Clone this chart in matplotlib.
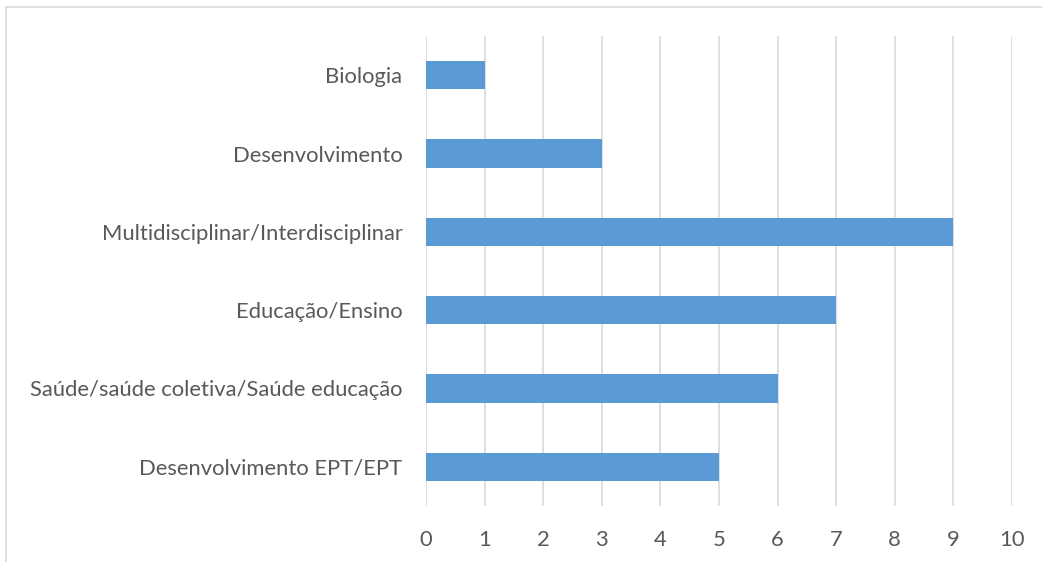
import matplotlib
matplotlib.use('Agg')
import matplotlib.pyplot as plt
from matplotlib.patches import Rectangle

# dados (de baixo para cima, como no Excel)
categorias = ['Desenvolvimento EPT/EPT',
              'Saúde/saúde coletiva/Saúde educação',
              'Educação/Ensino',
              'Multidisciplinar/Interdisciplinar',
              'Desenvolvimento',
              'Biologia']
valores = [5, 6, 7, 9, 3, 1]
ticks_x = list(range(0, 11))

cor_barra = '#5B9BD5'
cor_texto = '#595959'
cor_grade = '#D9D9D9'

plt.rcParams['font.family'] = ['Lato', 'DejaVu Sans']

fig = plt.figure(figsize=(10.42, 5.62), dpi=100)
ax = fig.add_axes([426/1042, 1 - 506/562, (1012 - 426)/1042, (506 - 36)/562])

pos = list(range(len(categorias)))
ax.barh(pos, valores, height=0.36, color=cor_barra, zorder=3)

ax.set_xlim(0, 10)
ax.set_ylim(-0.5, len(categorias) - 0.5)
ax.set_xticks(ticks_x)
ax.set_xticklabels([str(t) for t in ticks_x])
ax.set_yticks(pos)
ax.set_yticklabels(categorias)

ax.grid(axis='x', color=cor_grade, linewidth=1.2, zorder=0)
for s in ax.spines.values():
    s.set_visible(False)
ax.tick_params(axis='both', length=0, labelsize=15.8, colors=cor_texto)
ax.tick_params(axis='x', pad=17)
ax.tick_params(axis='y', pad=17)

# moldura da área do gráfico (cortada na imagem original)
fig.patches.append(Rectangle((6/1042, -0.2), 1.2, 1.2 - 7/562, transform=fig.transFigure,
                             fill=False, edgecolor=cor_grade, linewidth=1.2))

fig.savefig('out.png', dpi=100)
